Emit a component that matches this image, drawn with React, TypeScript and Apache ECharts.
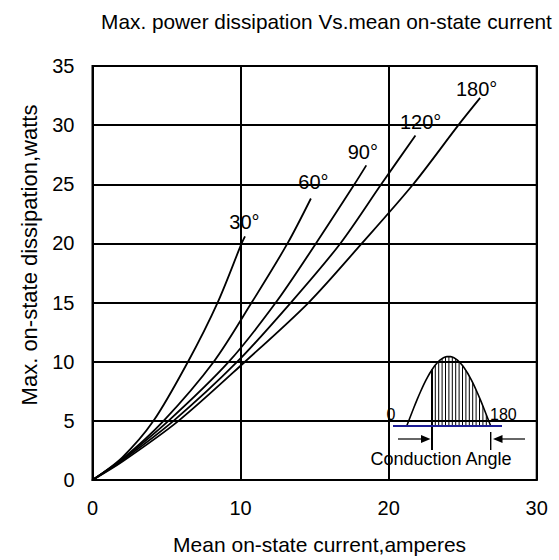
import React, { useEffect, useRef } from "react";
import * as echarts from "echarts";

const titleText = "Max. power dissipation Vs.mean on-state current";
const xAxisName = "Mean on-state current,amperes";
const yAxisName = "Max. on-state dissipation,watts";
const angleLabels = ["30°", "60°", "90°", "120°", "180°"];

// [current A, power W]
const curve30 = [[0, 0], [2, 1.9], [4.12, 5], [6.45, 10], [8.45, 15], [10.07, 20], [10.3, 20.6]];
const curve60 = [[0, 0], [2, 1.76], [4.8, 5], [8.19, 10], [10.75, 15], [13.17, 20], [14.75, 23.8]];
const curve90 = [[0, 0], [2, 1.73], [5.13, 5], [9.21, 10], [12.38, 15], [15.09, 20], [17.69, 25], [18.49, 26.6]];
const curve120 = [[0, 0], [2, 1.65], [5.47, 5], [9.78, 10], [13.4, 15], [16.74, 20], [19.5, 25], [21.81, 29.13]];
const curve180 = [[0, 0], [2, 1.54], [5.81, 5], [10.3, 10], [14.6, 15], [18.19, 20], [21.66, 25], [24.71, 30], [26.18, 32.3]];
const curves = [curve30, curve60, curve90, curve120, curve180];

const FONT = "'Liberation Sans', Arial, sans-serif";

export default function App() {
  const ref = useRef<HTMLDivElement>(null);
  useEffect(() => {
    if (!ref.current) return;
    const chart = echarts.init(ref.current, null, { renderer: "svg" });

    // label positions (pixel, left/middle)
    const labelPos = [
      [229.3, 221.7],
      [298.3, 181.7],
      [347.7, 151.7],
      [400, 121.7],
      [456, 88.7],
    ];

    // inset diagram: half sine wave with hatched conduction part
    const x0 = 406.7, x1 = 490.7, base = 426, amp = 69.5;
    const sineY = (x: number) => base - amp * Math.sin((Math.PI * (x - x0)) / (x1 - x0));
    const sinePts: number[][] = [];
    for (let i = 0; i <= 48; i++) {
      const x = x0 + ((x1 - x0) * i) / 48;
      sinePts.push([x, sineY(x)]);
    }
    const hatch: any[] = [];
    for (let x = 435.3; x < 489; x += 3.4) {
      hatch.push({
        type: "line",
        shape: { x1: x, y1: base, x2: x, y2: sineY(x) },
        style: { stroke: "#000", lineWidth: 1 },
        silent: true,
      });
    }

    const graphic: any[] = [
      {
        type: "text",
        x: 326.5,
        y: 21.5,
        style: {
          text: titleText,
          fill: "#000",
          font: `20.8px ${FONT}`,
          textAlign: "center",
          textVerticalAlign: "middle",
        },
      },
      ...angleLabels.map((t, i) => ({
        type: "text",
        x: labelPos[i][0],
        y: labelPos[i][1],
        style: {
          text: t,
          fill: "#000",
          font: `20px ${FONT}`,
          textAlign: "left",
          textVerticalAlign: "middle",
        },
      })),
      ...hatch,
      {
        type: "polyline",
        shape: { points: sinePts },
        style: { stroke: "#000", lineWidth: 1.6, fill: null },
      },
      {
        type: "line",
        shape: { x1: 432, y1: sineY(432), x2: 432, y2: 450 },
        style: { stroke: "#000", lineWidth: 2 },
      },
      {
        type: "line",
        shape: { x1: 393, y1: base, x2: 502, y2: base },
        style: { stroke: "#1c1c96", lineWidth: 2 },
      },
      {
        type: "line",
        shape: { x1: 398, y1: 439, x2: 424, y2: 439 },
        style: { stroke: "#000", lineWidth: 1.2 },
      },
      {
        type: "polygon",
        shape: { points: [[430.5, 439], [421, 435], [421, 443]] },
        style: { fill: "#000" },
      },
      {
        type: "line",
        shape: { x1: 490.7, y1: 432, x2: 490.7, y2: 450 },
        style: { stroke: "#000", lineWidth: 1.4 },
      },
      {
        type: "line",
        shape: { x1: 499, y1: 439, x2: 525, y2: 439 },
        style: { stroke: "#000", lineWidth: 1.2 },
      },
      {
        type: "polygon",
        shape: { points: [[493, 439], [502.5, 435], [502.5, 443]] },
        style: { fill: "#000" },
      },
      {
        type: "text",
        x: 391,
        y: 414,
        style: { text: "0", fill: "#000", font: `16px ${FONT}`, textAlign: "center", textVerticalAlign: "middle" },
      },
      {
        type: "text",
        x: 490,
        y: 414,
        style: { text: "180", fill: "#000", font: `16px ${FONT}`, textAlign: "left", textVerticalAlign: "middle" },
      },
      {
        type: "text",
        x: 441,
        y: 459,
        style: { text: "Conduction Angle", fill: "#000", font: `18px ${FONT}`, textAlign: "center", textVerticalAlign: "middle" },
      },
    ];

    chart.setOption({
      animation: false,
      backgroundColor: "#fff",
      grid: {
        left: 92.5,
        top: 66,
        right: 22.3,
        bottom: 76.7,
        show: true,
        borderColor: "#000",
        borderWidth: 2,
        containLabel: false,
      },
      xAxis: {
        type: "value",
        min: 0,
        max: 30,
        interval: 10,
        name: xAxisName,
        nameLocation: "middle",
        nameGap: 54,
        nameTextStyle: { color: "#000", fontSize: 21, fontFamily: FONT, padding: [0, 0, 0, 10] },
        axisLine: { show: true, lineStyle: { color: "#000", width: 2 } },
        axisTick: { show: false },
        axisLabel: { color: "#000", fontSize: 20, fontFamily: FONT, margin: 18 },
        splitLine: { show: true, lineStyle: { color: "#000", width: 2 } },
      },
      yAxis: {
        type: "value",
        min: 0,
        max: 35,
        interval: 5,
        name: yAxisName,
        nameLocation: "middle",
        nameGap: 52,
        nameTextStyle: { color: "#000", fontSize: 22, fontFamily: FONT, padding: [0, 0, 0, 36] },
        axisLine: { show: true, lineStyle: { color: "#000", width: 2 } },
        axisTick: { show: false },
        axisLabel: { color: "#000", fontSize: 20, fontFamily: FONT, margin: 18 },
        splitLine: { show: true, lineStyle: { color: "#000", width: 2 } },
      },
      series: curves.map((c, i) => ({
        name: angleLabels[i],
        type: "line",
        data: c,
        smooth: 0.3,
        symbol: "none",
        lineStyle: { color: "#000", width: 1.8 },
        z: 3,
      })),
      graphic,
    });
    return () => chart.dispose();
  }, []);
  return (
    <div
      ref={ref}
      style={{ position: "fixed", left: 0, top: 0, width: 559, height: 560, background: "#fff" }}
    />
  );
}
